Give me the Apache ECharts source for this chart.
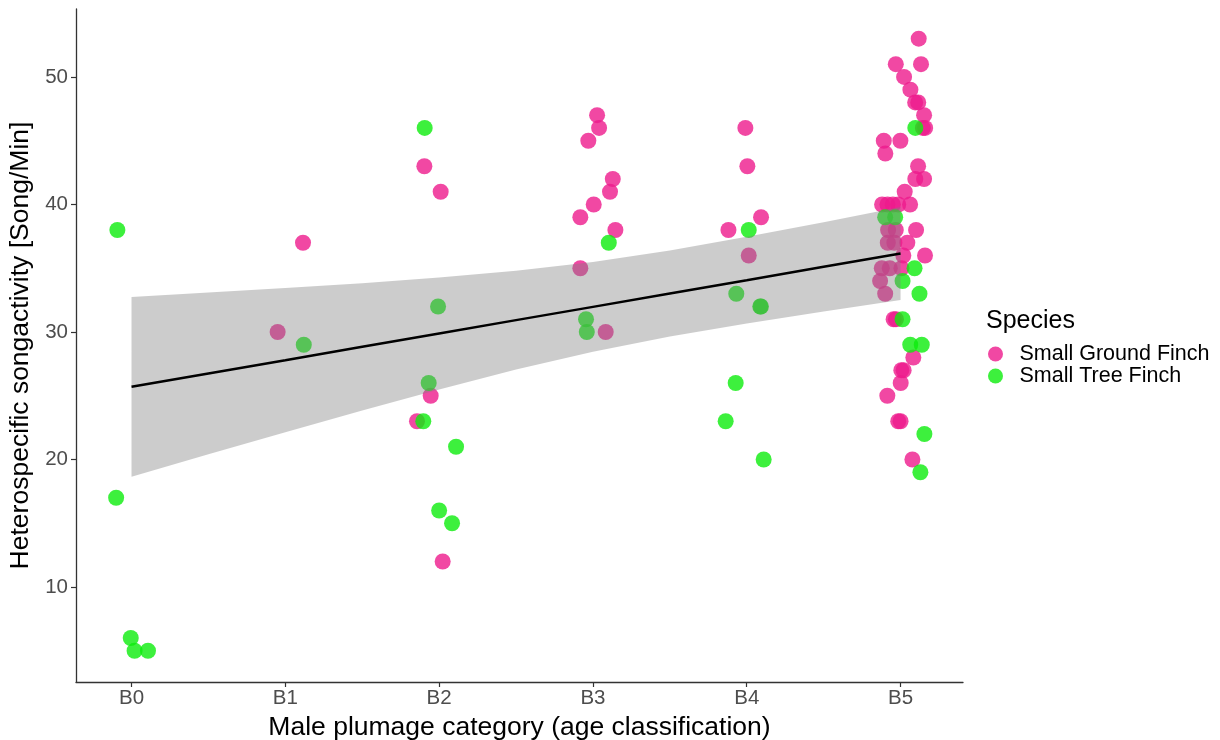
<!DOCTYPE html>
<html><head><meta charset="utf-8">
<script src="https://cdn.jsdelivr.net/npm/echarts@6/dist/echarts.min.js"></script>
<style>html,body{margin:0;padding:0;background:#fff}#c{width:1220px;height:740px}</style>
</head><body><div id="c"></div>
<script>
const categories = ['B0','B1','B2','B3','B4','B5'];
const yTicks = [10,20,30,40,50];
const seriesNames = ['Small Ground Finch','Small Tree Finch'];

const groundX = [0.95,1.115,
  1.904,2.01,1.945,1.856,2.023,
  3.027,3.04,2.97,3.129,3.111,3.005,2.918,3.146,2.918,3.083,
  3.991,4.004,4.093,3.881,4.013,
  5.118,4.969,5.133,5.023,5.064,5.095,5.115,5.153,5.145,5.160,4.891,4.999,4.901,5.114,5.096,5.153,5.027,
  4.88,4.915,4.95,4.985,5.062,4.919,4.969,5.101,4.917,4.96,5.044,5.018,5.159,4.878,4.93,5.006,4.867,4.9,
  4.955,4.97,5.083,5.005,5.02,5.001,4.914,4.985,5.0,5.077];
const groundY = [30,37,
  43,41,25,23,12,
  47,46,45,42,41,40,39,38,35,30,
  46,43,39,38,36,
  53,51,51,50,49,48,48,47,46,46,45,45,44,43,42,42,41,
  40,40,40,40,40,38,38,38,37,37,37,36,36,35,35,35,34,33,
  31,31,28,27,27,26,25,23,23,20];

const treeX = [-0.092,-0.10,-0.005,0.02,0.107,
  1.12,
  1.906,1.993,1.932,1.897,2.11,2.0,2.084,
  3.103,2.955,2.96,
  4.013,3.932,4.088,4.092,3.928,3.863,4.11,
  5.096,4.90,4.965,5.091,5.013,5.123,5.013,5.063,5.138,5.155,5.129];
const treeY = [38,17,6,5,5,
  29,
  46,32,26,23,21,16,15,
  37,31,30,
  38,33,32,32,26,23,20,
  46,39,39,35,34,33,31,29,29,22,19];

const bandX     = [0,0.5,1,1.5,2,2.5,3,3.5,4,4.5,5];
const fitY      = [25.70,26.75,27.79,28.84,29.88,30.93,31.97,33.02,34.06,35.11,36.15];
const bandUpper = [32.75,33.09,33.44,33.83,34.27,34.80,35.49,36.40,37.46,38.61,39.80];
const bandLower = [18.65,20.41,22.14,23.85,25.49,27.06,28.45,29.64,30.66,31.61,32.50];

const FONT = '"Liberation Sans", Arial, sans-serif';
const zip = (a,b) => a.map((v,i)=>[v,b[i]]);

const chart = echarts.init(document.getElementById('c'), null, {renderer:'canvas'});
chart.setOption({
  backgroundColor:'#fff',
  animation:false,
  textStyle:{fontFamily:FONT},
  title:{text:'Species', left:986, top:309, padding:0,
    textStyle:{fontSize:25, fontWeight:'normal', color:'#000', fontFamily:FONT}},
  legend:{data:seriesNames, orient:'vertical', left:988, top:343, padding:0,
    icon:'circle', itemWidth:38, itemHeight:15, itemGap:0,
    textStyle:{fontSize:21.5, color:'#000', lineHeight:22, fontFamily:FONT}},
  grid:{left:76, right:257, top:9, bottom:58, outerBoundsMode:'none', containLabel:false},
  xAxis:{type:'value', min:-0.361, max:5.406,
    name:'Male plumage category (age classification)', nameLocation:'middle', nameGap:27,
    nameTextStyle:{fontSize:26.5, color:'#000', fontFamily:FONT},
    axisLine:{show:true, onZero:false, lineStyle:{color:'#333', width:1.3}},
    axisTick:{show:true, length:5, customValues:categories.map((c,i)=>i), lineStyle:{color:'#333', width:1.2}},
    axisLabel:{customValues:categories.map((c,i)=>i), formatter:v=>categories[Math.round(v)],
      fontSize:20.5, color:'#4d4d4d', margin:6, fontFamily:FONT},
    splitLine:{show:false}},
  yAxis:{type:'value', min:2.55, max:55.33,
    name:'Heterospecific songactivity [Song/Min]', nameLocation:'middle', nameGap:38,
    nameTextStyle:{fontSize:26.5, color:'#000', fontFamily:FONT},
    axisLine:{show:true, onZero:false, lineStyle:{color:'#333', width:1.3}},
    axisTick:{show:true, length:5, customValues:yTicks, lineStyle:{color:'#333', width:1.2}},
    axisLabel:{customValues:yTicks, fontSize:20.5, color:'#4d4d4d', margin:8, fontFamily:FONT},
    splitLine:{show:false}},
  series:[
    {name:seriesNames[0], type:'scatter', z:2, symbolSize:16, data:zip(groundX,groundY),
      itemStyle:{color:'#EE1A8C', opacity:0.8}},
    {name:seriesNames[1], type:'scatter', z:2, symbolSize:16, data:zip(treeX,treeY),
      itemStyle:{color:'#0CEC0C', opacity:0.8}},
    {name:'ciBand', type:'custom', z:3, silent:true, data:[0],
      renderItem:function(params, api){
        const pts = [];
        for (let i=0;i<bandX.length;i++) pts.push(api.coord([bandX[i], bandUpper[i]]));
        for (let i=bandX.length-1;i>=0;i--) pts.push(api.coord([bandX[i], bandLower[i]]));
        return {type:'polygon', shape:{points:pts}, style:{fill:'rgba(128,128,128,0.4)'}};
      }},
    {name:'fit', type:'line', z:4, symbol:'none', silent:true,
      data:zip(bandX,fitY), lineStyle:{color:'#000', width:2.5}}
  ]
});
</script>
</body></html>
